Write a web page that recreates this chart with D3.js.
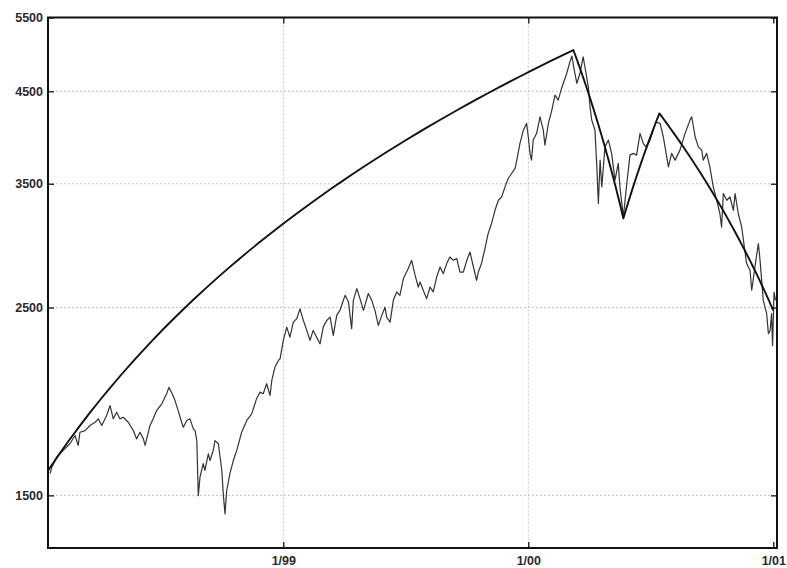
<!DOCTYPE html>
<html>
<head>
<meta charset="utf-8">
<script src="https://cdn.jsdelivr.net/npm/d3@7"></script>
<style>
  html, body { margin: 0; padding: 0; background: #ffffff; }
  svg { display: block; }
  text { font-family: "Liberation Sans", Arial, sans-serif; }
</style>
</head>
<body>
<script>
// ---- Data (time in decimal years, index level) ----
const dataYears = [
  1998.048,1998.055,1998.075,1998.102,1998.129,1998.150,1998.163,1998.170,1998.191,1998.211,
  1998.232,1998.245,1998.259,1998.279,1998.293,1998.306,1998.320,1998.333,1998.347,1998.367,
  1998.388,1998.401,1998.415,1998.429,1998.436,1998.456,1998.469,1998.483,1998.504,1998.524,
  1998.533,1998.546,1998.558,1998.571,1998.585,1998.592,1998.606,1998.619,1998.633,1998.640,
  1998.647,1998.653,1998.660,1998.673,1998.680,1998.694,1998.701,1998.714,1998.721,1998.735,
  1998.749,1998.755,1998.762,1998.769,1998.782,1998.796,1998.810,1998.830,1998.851,1998.871,
  1998.891,1998.905,1998.918,1998.932,1998.946,1998.953,1998.966,1998.980,1998.987,1999.000,
  1999.014,1999.027,1999.041,1999.055,1999.068,1999.082,1999.096,1999.109,1999.122,1999.136,
  1999.150,1999.163,1999.177,1999.191,1999.204,1999.218,1999.231,1999.252,1999.266,1999.279,
  1999.286,1999.300,1999.313,1999.327,1999.347,1999.361,1999.374,1999.388,1999.402,1999.415,
  1999.422,1999.436,1999.449,1999.463,1999.476,1999.490,1999.510,1999.524,1999.538,1999.551,
  1999.558,1999.571,1999.585,1999.599,1999.612,1999.626,1999.640,1999.653,1999.667,1999.680,
  1999.694,1999.708,1999.721,1999.735,1999.749,1999.762,1999.776,1999.789,1999.796,1999.809,
  1999.823,1999.836,1999.850,1999.864,1999.878,1999.891,1999.905,1999.918,1999.932,1999.946,
  1999.953,1999.966,1999.980,1999.993,2000.000,2000.007,2000.013,2000.020,2000.034,2000.048,
  2000.061,2000.068,2000.082,2000.096,2000.109,2000.122,2000.136,2000.143,2000.157,2000.170,
  2000.178,2000.184,2000.198,2000.211,2000.224,2000.231,2000.245,2000.252,2000.259,2000.272,
  2000.279,2000.286,2000.293,2000.300,2000.313,2000.327,2000.340,2000.354,2000.367,2000.374,
  2000.388,2000.402,2000.415,2000.429,2000.442,2000.456,2000.469,2000.480,2000.497,2000.510,
  2000.521,2000.538,2000.551,2000.565,2000.572,2000.585,2000.599,2000.619,2000.640,2000.660,
  2000.667,2000.681,2000.694,2000.708,2000.714,2000.728,2000.741,2000.755,2000.769,2000.782,
  2000.789,2000.796,2000.810,2000.823,2000.837,2000.844,2000.857,2000.871,2000.878,2000.891,
  2000.905,2000.912,2000.925,2000.939,2000.946,2000.959,2000.973,2000.980,2000.987,2000.993,
  2000.997,2001.003,2001.009
];
const dataValues = [
  1591,1619,1664,1695,1726,1765,1718,1781,1789,1814,
  1830,1847,1814,1864,1915,1847,1880,1847,1855,1830,
  1789,1749,1781,1749,1718,1814,1847,1889,1924,1977,
  2012,1979,1941,1889,1830,1805,1839,1847,1797,1789,
  1741,1499,1576,1635,1605,1679,1649,1695,1741,1726,
  1605,1506,1426,1520,1591,1649,1695,1781,1839,1872,
  1951,1986,1977,2032,1968,2050,2126,2165,2175,2286,
  2370,2306,2402,2425,2491,2413,2349,2286,2349,2306,
  2265,2370,2413,2435,2317,2447,2480,2584,2537,2360,
  2549,2632,2561,2480,2597,2549,2480,2381,2447,2502,
  2435,2402,2549,2608,2584,2704,2779,2842,2728,2643,
  2680,2620,2561,2643,2608,2716,2791,2741,2817,2868,
  2842,2855,2753,2753,2842,2907,2791,2691,2753,2817,
  2934,3056,3141,3256,3346,3376,3470,3550,3599,3649,
  3732,3906,4050,4124,3977,3801,3732,3941,4014,4199,
  4050,3888,4124,4276,4454,4394,4537,4599,4726,4877,
  4953,4833,4599,4726,4943,4811,4555,4315,4161,4050,
  3699,3317,3732,3470,3869,3941,3801,3534,3699,3470,
  3198,3502,3783,3801,3783,4014,3906,3869,3941,4050,
  4138,4124,3977,3766,3665,3801,3732,3835,4014,4161,
  4199,3977,3869,3835,3732,3801,3665,3470,3346,3228,
  3111,3408,3346,3376,3256,3408,3228,3111,3002,2817,
  2766,2620,2791,2975,2842,2549,2458,2328,2349,2458,
  2254,2606,2549
];
// Trend segments (vertices joined by straight lines in price space)
const trendYears  = [1998.040, 2000.184, 2000.388, 2000.535, 2001.000];
const trendValues = [1605,     5034,     3185,     4238,     2480];

const yTickValues = [1500, 2500, 3500, 4500, 5500];
const xTickValues = [1999, 2000, 2001];
const xTickLabels = ["1/99", "1/00", "1/01"];

// ---- Layout ----
const W = 787, H = 568;
const mLeft = 48, mRight = 777, mTop = 17.5, mBottom = 548;

const svg = d3.select("body").append("svg").attr("width", W).attr("height", H);
svg.append("rect").attr("width", W).attr("height", H).attr("fill", "#ffffff");

const x = d3.scaleLinear().domain([1998.0396, 2001.0151]).range([mLeft, mRight]);
const y = d3.scaleLog().domain([1300, 5500]).range([mBottom, mTop]);

// gridlines
const grid = svg.append("g").attr("stroke", "#c4c4c4").attr("stroke-width", 1)
  .attr("stroke-dasharray", "2,2");
grid.selectAll("line.h").data(yTickValues.filter(v => v < 5500)).join("line")
  .attr("class", "h")
  .attr("x1", mLeft).attr("x2", mRight)
  .attr("y1", d => y(d)).attr("y2", d => y(d));
grid.selectAll("line.v").data(xTickValues.filter(v => v < 2001)).join("line")
  .attr("class", "v")
  .attr("y1", mTop).attr("y2", mBottom)
  .attr("x1", d => x(d)).attr("x2", d => x(d));

// axes (ticks inward, mirrored)
const fmtX = d => xTickLabels[xTickValues.indexOf(d)];
const axL = svg.append("g").attr("transform", `translate(${mLeft},0)`)
  .call(d3.axisLeft(y).tickValues(yTickValues).tickFormat(d3.format("d")).tickSize(-6).tickPadding(5));
const axR = svg.append("g").attr("transform", `translate(${mRight},0)`)
  .call(d3.axisRight(y).tickValues(yTickValues).tickFormat("").tickSize(-6));
const axB = svg.append("g").attr("transform", `translate(0,${mBottom})`)
  .call(d3.axisBottom(x).tickValues(xTickValues).tickFormat(fmtX).tickSize(-6).tickPadding(8));
const axT = svg.append("g").attr("transform", `translate(0,${mTop})`)
  .call(d3.axisTop(x).tickValues(xTickValues).tickFormat("").tickSize(-6));
[axL, axR, axB, axT].forEach(a => {
  a.select(".domain").remove();
  a.selectAll(".tick line").attr("stroke", "#111").attr("stroke-width", 1.3);
  a.selectAll("text").attr("font-size", 12.5).attr("font-weight", "bold").attr("fill", "#2a2a2a")
    .attr("font-family", "'Liberation Sans', Arial, sans-serif");
});

// data series
const series = dataYears.map((t, i) => [t, dataValues[i]]);
const line = d3.line().x(d => x(d[0])).y(d => y(d[1]));
svg.append("path").datum(series).attr("d", line)
  .attr("fill", "none").attr("stroke", "#333").attr("stroke-width", 1.2)
  .attr("stroke-linejoin", "round");

// trend segments: straight in price space, rendered on the log axis
const trendPath = [];
for (let i = 0; i < trendYears.length - 1; i++) {
  const it = d3.interpolateNumber(trendYears[i], trendYears[i + 1]);
  const iv = d3.interpolateNumber(trendValues[i], trendValues[i + 1]);
  d3.range(0, 1.0001, 0.02).forEach(s => trendPath.push([it(s), iv(s)]));
}
svg.append("path").datum(trendPath).attr("d", line)
  .attr("fill", "none").attr("stroke", "#111").attr("stroke-width", 1.9)
  .attr("stroke-linejoin", "round");

// frame
svg.append("rect").attr("x", mLeft).attr("y", mTop)
  .attr("width", mRight - mLeft).attr("height", mBottom - mTop)
  .attr("fill", "none").attr("stroke", "#111").attr("stroke-width", 2);
</script>
</body>
</html>
